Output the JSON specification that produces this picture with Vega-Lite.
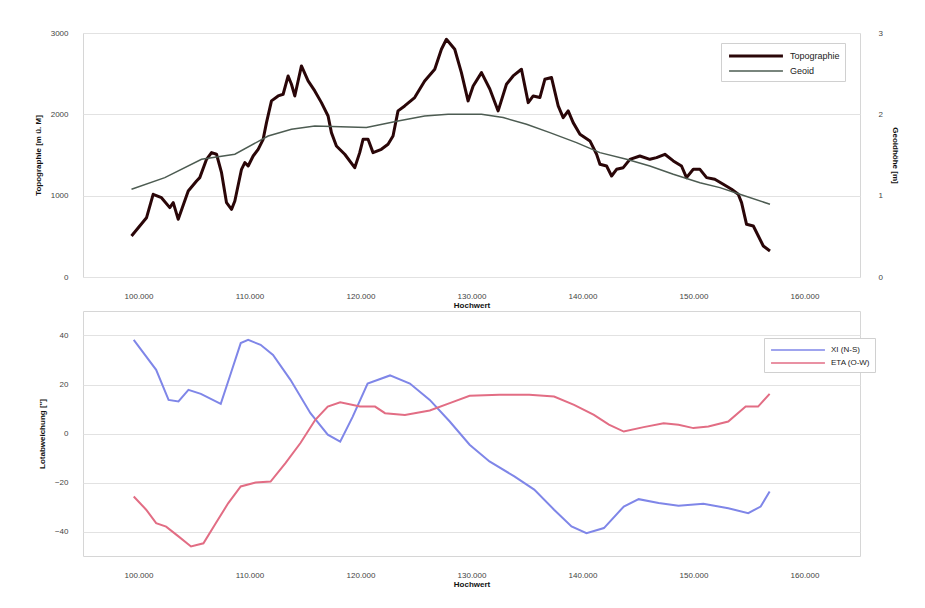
{
  "$schema": "https://vega.github.io/schema/vega-lite/v6.json",
  "background": "white",
  "padding": {"left": 33, "top": 28, "right": 5, "bottom": 5},
  "spacing": 34,
  "bounds": "flush",
  "resolve": {"scale": {"color": "independent", "strokeWidth": "independent", "x": "independent"}, "legend": {"color": "independent", "strokeWidth": "independent"}},
  "config": {
    "font": "Liberation Sans",
    "view": {"stroke": "#d6d6d6", "strokeWidth": 1},
    "axis": {
      "labelFont": "Liberation Sans", "labelFontSize": 8, "labelColor": "#444",
      "titleFont": "Liberation Sans", "titleFontSize": 8, "titleFontWeight": "bold", "titleColor": "#111",
      "domain": false, "ticks": false, "gridColor": "#e2e2e2", "gridWidth": 1
    },
    "legend": {
      "labelFont": "Liberation Sans", "labelFontSize": 8, "labelColor": "#222",
      "fillColor": "white", "strokeColor": "#d0d0d0", "padding": 5,
      "symbolType": "M-4.4,0H4.4", "symbolSize": 150, "symbolOffset": 22, "labelOffset": 26, "rowPadding": 2
    }
  },
  "datasets": {
    "topo": [
      {"x": 99370, "h": 504}, {"x": 100720, "h": 728}, {"x": 101320, "h": 1017}, {"x": 102070, "h": 975},
      {"x": 102820, "h": 853}, {"x": 103130, "h": 914}, {"x": 103580, "h": 709}, {"x": 104480, "h": 1058},
      {"x": 105230, "h": 1181}, {"x": 105520, "h": 1222}, {"x": 106130, "h": 1447}, {"x": 106580, "h": 1529},
      {"x": 107030, "h": 1509}, {"x": 107480, "h": 1283}, {"x": 107930, "h": 914}, {"x": 108380, "h": 832},
      {"x": 108680, "h": 935}, {"x": 109280, "h": 1324}, {"x": 109580, "h": 1406}, {"x": 109880, "h": 1365},
      {"x": 110330, "h": 1488}, {"x": 110780, "h": 1570}, {"x": 111230, "h": 1693}, {"x": 111530, "h": 1898},
      {"x": 111980, "h": 2165}, {"x": 112580, "h": 2226}, {"x": 113030, "h": 2247}, {"x": 113480, "h": 2472},
      {"x": 113780, "h": 2370}, {"x": 114080, "h": 2226}, {"x": 114680, "h": 2595}, {"x": 115280, "h": 2411},
      {"x": 115880, "h": 2288}, {"x": 116480, "h": 2144}, {"x": 117080, "h": 1980}, {"x": 117380, "h": 1775},
      {"x": 117830, "h": 1611}, {"x": 118580, "h": 1509}, {"x": 119480, "h": 1344}, {"x": 119930, "h": 1529},
      {"x": 120230, "h": 1693}, {"x": 120680, "h": 1693}, {"x": 121130, "h": 1529}, {"x": 121880, "h": 1570},
      {"x": 122480, "h": 1632}, {"x": 122930, "h": 1734}, {"x": 123380, "h": 2042}, {"x": 123980, "h": 2103},
      {"x": 124880, "h": 2206}, {"x": 125780, "h": 2411}, {"x": 126690, "h": 2554}, {"x": 127290, "h": 2800},
      {"x": 127740, "h": 2923}, {"x": 128490, "h": 2800}, {"x": 129090, "h": 2513}, {"x": 129690, "h": 2165},
      {"x": 130150, "h": 2349}, {"x": 130900, "h": 2513}, {"x": 131650, "h": 2312}, {"x": 132400, "h": 2042},
      {"x": 133150, "h": 2370}, {"x": 133750, "h": 2472}, {"x": 134500, "h": 2554}, {"x": 135110, "h": 2144},
      {"x": 135560, "h": 2226}, {"x": 136160, "h": 2206}, {"x": 136610, "h": 2431}, {"x": 137210, "h": 2452},
      {"x": 137810, "h": 2103}, {"x": 138260, "h": 1959}, {"x": 138710, "h": 2042}, {"x": 139160, "h": 1898},
      {"x": 139770, "h": 1755}, {"x": 140670, "h": 1673}, {"x": 141270, "h": 1509}, {"x": 141570, "h": 1386},
      {"x": 142170, "h": 1365}, {"x": 142620, "h": 1242}, {"x": 143070, "h": 1324}, {"x": 143670, "h": 1344},
      {"x": 144270, "h": 1447}, {"x": 145170, "h": 1488}, {"x": 146070, "h": 1447}, {"x": 146670, "h": 1468},
      {"x": 147420, "h": 1509}, {"x": 148180, "h": 1427}, {"x": 148920, "h": 1365}, {"x": 149370, "h": 1222},
      {"x": 149980, "h": 1324}, {"x": 150580, "h": 1324}, {"x": 151180, "h": 1222}, {"x": 151920, "h": 1201},
      {"x": 152680, "h": 1140}, {"x": 153430, "h": 1079}, {"x": 154030, "h": 1017}, {"x": 154330, "h": 914},
      {"x": 154780, "h": 648}, {"x": 155390, "h": 627}, {"x": 155840, "h": 504}, {"x": 156290, "h": 381},
      {"x": 156890, "h": 320}
    ],
    "geoid": [
      {"x": 99370, "g": 1.079}, {"x": 102370, "g": 1.222}, {"x": 105680, "g": 1.447}, {"x": 108680, "g": 1.509},
      {"x": 111680, "g": 1.734}, {"x": 113780, "g": 1.816}, {"x": 115880, "g": 1.857}, {"x": 120530, "g": 1.837},
      {"x": 123380, "g": 1.919}, {"x": 125780, "g": 1.98}, {"x": 127890, "g": 2.001}, {"x": 130900, "g": 2.001},
      {"x": 132850, "g": 1.96}, {"x": 134960, "g": 1.878}, {"x": 137060, "g": 1.775}, {"x": 139460, "g": 1.652},
      {"x": 141570, "g": 1.529}, {"x": 143970, "g": 1.447}, {"x": 146070, "g": 1.365}, {"x": 148180, "g": 1.263},
      {"x": 150580, "g": 1.16}, {"x": 152380, "g": 1.099}, {"x": 154180, "g": 1.017}, {"x": 156890, "g": 0.894}
    ],
    "defl": [
      {"x": 99570, "v": 38.2, "s": "XI (N-S)"}, {"x": 101590, "v": 26.0, "s": "XI (N-S)"},
      {"x": 102710, "v": 13.7, "s": "XI (N-S)"}, {"x": 103600, "v": 13.1, "s": "XI (N-S)"},
      {"x": 104500, "v": 17.8, "s": "XI (N-S)"}, {"x": 105620, "v": 16.2, "s": "XI (N-S)"},
      {"x": 107410, "v": 12.1, "s": "XI (N-S)"}, {"x": 108320, "v": 24.6, "s": "XI (N-S)"},
      {"x": 109210, "v": 36.9, "s": "XI (N-S)"}, {"x": 109880, "v": 38.2, "s": "XI (N-S)"},
      {"x": 111000, "v": 36.2, "s": "XI (N-S)"}, {"x": 112120, "v": 32.1, "s": "XI (N-S)"},
      {"x": 113690, "v": 21.9, "s": "XI (N-S)"}, {"x": 115490, "v": 8.3, "s": "XI (N-S)"},
      {"x": 117050, "v": -0.5, "s": "XI (N-S)"}, {"x": 118170, "v": -3.3, "s": "XI (N-S)"},
      {"x": 119290, "v": 6.8, "s": "XI (N-S)"}, {"x": 120640, "v": 20.4, "s": "XI (N-S)"},
      {"x": 122660, "v": 23.7, "s": "XI (N-S)"}, {"x": 124450, "v": 20.4, "s": "XI (N-S)"},
      {"x": 126240, "v": 13.7, "s": "XI (N-S)"}, {"x": 128040, "v": 4.9, "s": "XI (N-S)"},
      {"x": 129830, "v": -4.6, "s": "XI (N-S)"}, {"x": 131620, "v": -11.4, "s": "XI (N-S)"},
      {"x": 133860, "v": -17.5, "s": "XI (N-S)"}, {"x": 135650, "v": -22.9, "s": "XI (N-S)"},
      {"x": 137440, "v": -31.1, "s": "XI (N-S)"}, {"x": 139010, "v": -37.9, "s": "XI (N-S)"},
      {"x": 140360, "v": -40.7, "s": "XI (N-S)"}, {"x": 141930, "v": -38.6, "s": "XI (N-S)"},
      {"x": 143720, "v": -29.8, "s": "XI (N-S)"}, {"x": 145060, "v": -26.8, "s": "XI (N-S)"},
      {"x": 146860, "v": -28.4, "s": "XI (N-S)"}, {"x": 148650, "v": -29.5, "s": "XI (N-S)"},
      {"x": 150890, "v": -28.7, "s": "XI (N-S)"}, {"x": 153130, "v": -30.5, "s": "XI (N-S)"},
      {"x": 154930, "v": -32.5, "s": "XI (N-S)"}, {"x": 156050, "v": -29.8, "s": "XI (N-S)"},
      {"x": 156860, "v": -23.7, "s": "XI (N-S)"},
      {"x": 99570, "v": -25.7, "s": "ETA (O-W)"}, {"x": 100690, "v": -31.1, "s": "ETA (O-W)"},
      {"x": 101590, "v": -36.6, "s": "ETA (O-W)"}, {"x": 102490, "v": -38.0, "s": "ETA (O-W)"},
      {"x": 103600, "v": -42.0, "s": "ETA (O-W)"}, {"x": 104730, "v": -46.1, "s": "ETA (O-W)"},
      {"x": 105850, "v": -44.8, "s": "ETA (O-W)"}, {"x": 106960, "v": -36.6, "s": "ETA (O-W)"},
      {"x": 108090, "v": -28.4, "s": "ETA (O-W)"}, {"x": 109210, "v": -21.6, "s": "ETA (O-W)"},
      {"x": 110550, "v": -20.0, "s": "ETA (O-W)"}, {"x": 111900, "v": -19.6, "s": "ETA (O-W)"},
      {"x": 113240, "v": -12.1, "s": "ETA (O-W)"}, {"x": 114590, "v": -3.9, "s": "ETA (O-W)"},
      {"x": 115930, "v": 5.6, "s": "ETA (O-W)"}, {"x": 117050, "v": 11.0, "s": "ETA (O-W)"},
      {"x": 118170, "v": 12.7, "s": "ETA (O-W)"}, {"x": 119960, "v": 11.0, "s": "ETA (O-W)"},
      {"x": 121310, "v": 11.0, "s": "ETA (O-W)"}, {"x": 122210, "v": 8.3, "s": "ETA (O-W)"},
      {"x": 124000, "v": 7.6, "s": "ETA (O-W)"}, {"x": 126240, "v": 9.4, "s": "ETA (O-W)"},
      {"x": 128040, "v": 12.4, "s": "ETA (O-W)"}, {"x": 129830, "v": 15.4, "s": "ETA (O-W)"},
      {"x": 132510, "v": 15.8, "s": "ETA (O-W)"}, {"x": 135210, "v": 15.8, "s": "ETA (O-W)"},
      {"x": 137440, "v": 15.1, "s": "ETA (O-W)"}, {"x": 139240, "v": 11.7, "s": "ETA (O-W)"},
      {"x": 141030, "v": 7.6, "s": "ETA (O-W)"}, {"x": 142380, "v": 3.6, "s": "ETA (O-W)"},
      {"x": 143720, "v": 0.8, "s": "ETA (O-W)"}, {"x": 145510, "v": 2.6, "s": "ETA (O-W)"},
      {"x": 147310, "v": 4.2, "s": "ETA (O-W)"}, {"x": 148650, "v": 3.6, "s": "ETA (O-W)"},
      {"x": 149990, "v": 2.2, "s": "ETA (O-W)"}, {"x": 151340, "v": 2.9, "s": "ETA (O-W)"},
      {"x": 153130, "v": 4.9, "s": "ETA (O-W)"}, {"x": 154700, "v": 11.0, "s": "ETA (O-W)"},
      {"x": 155820, "v": 11.0, "s": "ETA (O-W)"}, {"x": 156860, "v": 16.2, "s": "ETA (O-W)"}
    ]
  },
  "vconcat": [
    {
      "width": 777,
      "height": 244,
      "layer": [
        {
          "data": {"name": "topo"},
          "transform": [{"calculate": "'Topographie'", "as": "series"}],
          "mark": {"type": "line", "strokeJoin": "round"},
          "encoding": {
            "x": {"field": "x", "type": "quantitative", "scale": {"domain": [95000, 165000], "nice": false},
              "axis": {"values": [100000, 110000, 120000, 130000, 140000, 150000, 160000], "grid": false,
                "labelExpr": "replace(format(datum.value, ',d'), ',', '.')", "labelPadding": 15, "title": "Hochwert", "titlePadding": 1}},
            "y": {"field": "h", "type": "quantitative", "scale": {"domain": [0, 3000], "nice": false},
              "axis": {"values": [0, 1000, 2000, 3000], "format": "d", "labelPadding": 15, "title": "Topographie [m ü. M]", "titlePadding": 8}},
            "color": {"field": "series", "type": "nominal",
              "scale": {"domain": ["Topographie", "Geoid"], "range": ["#2a0608", "#4d5c52"]},
              "legend": {"title": null, "orient": "none", "legendX": 638, "legendY": 10, "labelFontSize": 9}},
            "strokeWidth": {"field": "series", "type": "nominal",
              "scale": {"domain": ["Topographie", "Geoid"], "range": [3, 1.5]},
              "legend": {"title": null, "orient": "none", "legendX": 638, "legendY": 10, "labelFontSize": 9}}
          }
        },
        {
          "data": {"name": "geoid"},
          "transform": [{"calculate": "'Geoid'", "as": "series"}],
          "mark": {"type": "line"},
          "encoding": {
            "x": {"field": "x", "type": "quantitative"},
            "y": {"field": "g", "type": "quantitative", "scale": {"domain": [0, 3], "nice": false},
              "axis": {"orient": "right", "values": [0, 1, 2, 3], "grid": false, "labelPadding": 18, "title": "Geoidhöhe [m]", "titlePadding": 8}},
            "color": {"field": "series", "type": "nominal"},
            "strokeWidth": {"field": "series", "type": "nominal"}
          }
        }
      ],
      "resolve": {"scale": {"y": "independent"}}
    },
    {
      "width": 777,
      "height": 245,
      "data": {"name": "defl"},
      "mark": {"type": "line", "strokeWidth": 2},
      "encoding": {
        "x": {"field": "x", "type": "quantitative", "scale": {"domain": [95000, 165000], "nice": false},
          "axis": {"values": [100000, 110000, 120000, 130000, 140000, 150000, 160000], "grid": false,
            "labelExpr": "replace(format(datum.value, ',d'), ',', '.')", "labelPadding": 15, "title": "Hochwert", "titlePadding": 1}},
        "y": {"field": "v", "type": "quantitative", "scale": {"domain": [-50, 50], "nice": false},
          "axis": {"values": [-40, -20, 0, 20, 40], "labelPadding": 15, "title": "Lotabweichung [\"]", "titlePadding": 8}},
        "color": {"field": "s", "type": "nominal",
          "scale": {"domain": ["XI (N-S)", "ETA (O-W)"], "range": ["#7f86e8", "#e26d84"]},
          "legend": {"title": null, "orient": "none", "legendX": 681, "legendY": 27}}
      }
    }
  ]
}
